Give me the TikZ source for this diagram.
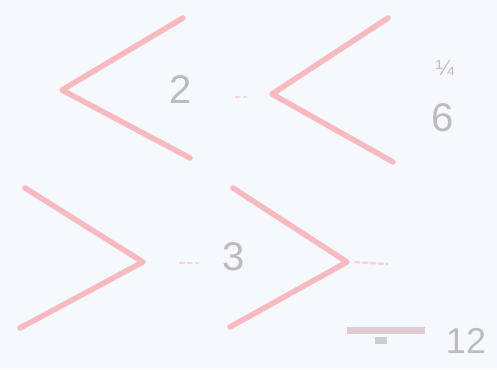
\documentclass[tikz,border=0pt]{standalone}
\usepackage{fontspec}
\setmainfont{Liberation Sans}
\definecolor{bg}{RGB}{246,249,251}
\definecolor{chev}{RGB}{248,185,192}
\definecolor{digit}{RGB}{190,186,192}
\begin{document}
\begin{tikzpicture}[x=1pt,y=-1pt,
  chevron/.style={draw=chev,line width=5.5pt,line cap=round,line join=round},
  tick/.style={draw=chev!60!bg,line width=2.5pt,line cap=round,dash pattern=on 4pt off 4pt},
  num/.style={text=digit,font=\fontsize{40}{40}\selectfont,inner sep=0pt},
  smallnum/.style={text=digit,font=\fontsize{22}{22}\selectfont,inner sep=0pt}]
\fill[bg] (0,0) rectangle (497,369);
\useasboundingbox (0,0) rectangle (497,369);
% chevron 1
\coordinate (a1) at (183,18); \coordinate (a2) at (62,90); \coordinate (a3) at (190,158);
\draw[chevron] (a1) -- (a2) -- (a3);
\node[num] (n2) at (181,90) {2};
% dot
\coordinate (d1) at (236,97); \coordinate (d2) at (246,97);
\draw[tick] (d1) -- (d2);
% chevron 2
\coordinate (b1) at (388,18); \coordinate (b2) at (272,94); \coordinate (b3) at (393,162);
\draw[chevron] (b1) -- (b2) -- (b3);
\node[smallnum,text=digit!70!chev] (n14) at (445,68) {¼};
\node[num] (n6) at (443,118) {6};
% chevron 3
\coordinate (c1) at (25,188); \coordinate (c2) at (143,262); \coordinate (c3) at (20,328);
\draw[chevron] (c1) -- (c2) -- (c3);
\coordinate (e1) at (180,263); \coordinate (e2) at (198,263);
\draw[tick] (e1) -- (e2);
\node[num] (n3) at (234,257) {3};
% chevron 4
\coordinate (f1) at (233,188); \coordinate (f2) at (347,262); \coordinate (f3) at (230,327);
\draw[chevron] (f1) -- (f2) -- (f3);
\coordinate (g1) at (355,262); \coordinate (g2) at (387,264);
\draw[tick] (g1) -- (g2);
% smudge label
\fill[digit!60!chev!70!bg] (347,327) rectangle (425,334);
\fill[digit!70!bg] (375,337) rectangle (387,344);
\node[num,font=\fontsize{36}{36}\selectfont] (n12) at (466,341) {12};
\end{tikzpicture}
\end{document}
